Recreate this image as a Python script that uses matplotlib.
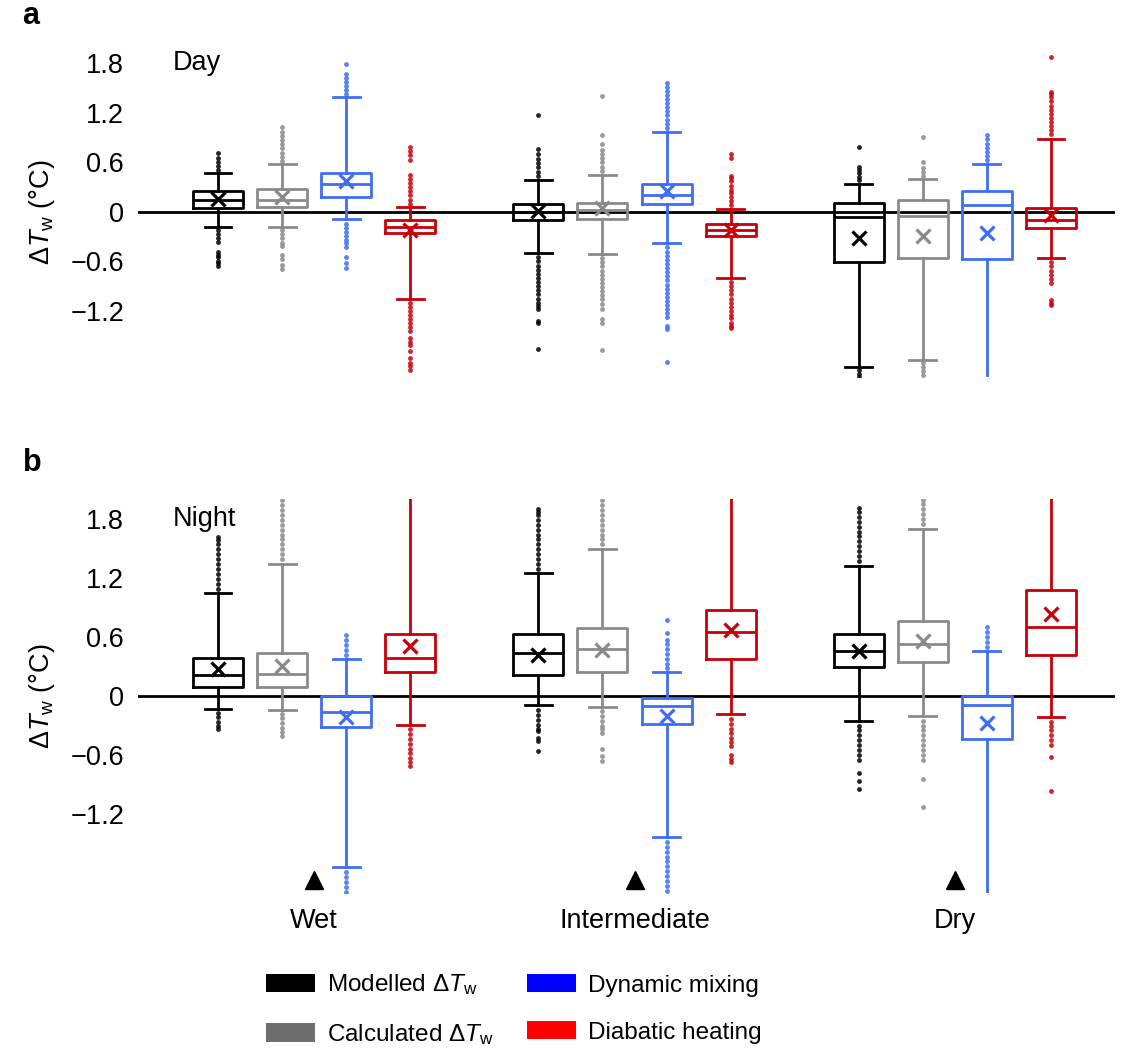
import matplotlib
matplotlib.use('Agg')
import matplotlib.pyplot as plt
from matplotlib.patches import Patch

plt.rcParams['font.family'] = ['Liberation Sans', 'DejaVu Sans']
plt.rcParams['mathtext.fontset'] = 'custom'
plt.rcParams['mathtext.rm'] = 'Liberation Sans'
plt.rcParams['mathtext.it'] = 'Liberation Sans:italic'

groups = ['Wet', 'Intermediate', 'Dry']
box_colors = ['#000000', '#8a8a8a', '#3d6ef5', '#c8000a']
legend_colors = ['#000000', '#6e6e6e', '#0000ff', '#ff0000']
legend_labels = ['Modelled Δ$T_{\\mathrm{w}}$', 'Calculated Δ$T_{\\mathrm{w}}$',
                 'Dynamic mixing', 'Diabatic heating']

# order in every list: Wet (modelled, calculated, mixing, heating), Intermediate (...), Dry (...)
day_q1 = [0.05, 0.06, 0.18, -0.26, -0.10, -0.09, 0.10, -0.29, -0.61, -0.56, -0.57, -0.20]
day_med = [0.15, 0.15, 0.34, -0.18, 0.0, 0.02, 0.21, -0.22, -0.06, -0.05, 0.09, -0.10]
day_q3 = [0.25, 0.28, 0.47, -0.10, 0.10, 0.11, 0.34, -0.15, 0.11, 0.14, 0.26, 0.05]
day_mean = [0.16, 0.18, 0.38, -0.22, 0.01, 0.05, 0.25, -0.22, -0.32, -0.29, -0.26, -0.04]
day_lo = [-0.18, -0.18, -0.09, -1.06, -0.50, -0.51, -0.38, -0.80, -1.88, -1.79, -2.5, -0.56]
day_hi = [0.47, 0.58, 1.39, 0.06, 0.39, 0.45, 0.97, 0.04, 0.34, 0.40, 0.58, 0.89]
day_fliers = [
    [0.51, 0.56, 0.61, 0.66, 0.71, -0.22, -0.27, -0.32, -0.36, -0.49, -0.52, -0.55, -0.59, -0.62, -0.66],
    [0.62, 0.67, 0.72, 0.77, 0.82, 0.87, 0.92, 0.97, 1.03, -0.22, -0.27, -0.32, -0.37, -0.41,
     -0.52, -0.57, -0.64, -0.69],
    [1.43, 1.48, 1.53, 1.58, 1.63, 1.67, 1.79, -0.14, -0.19, -0.24, -0.29, -0.34, -0.38, -0.42,
     -0.54, -0.62, -0.68],
    [0.10, 0.15, 0.20, 0.25, 0.30, 0.35, 0.40, 0.45, 0.63, 0.69, 0.74, 0.79, -1.10, -1.15, -1.20,
     -1.25, -1.30, -1.35, -1.40, -1.44, -1.53, -1.57, -1.61, -1.69, -1.77, -1.83, -1.87, -1.92],
    [0.44, 0.49, 0.54, 0.59, 0.64, 0.70, 0.76, 1.17, -0.55, -0.60, -0.65, -0.70, -0.75, -0.80,
     -0.85, -0.90, -0.95, -1.00, -1.05, -1.10, -1.14, -1.17, -1.32, -1.35, -1.66],
    [0.50, 0.55, 0.60, 0.65, 0.70, 0.75, 0.82, 0.93, 1.40, -0.56, -0.61, -0.66, -0.71, -0.76,
     -0.81, -0.86, -0.91, -0.96, -1.01, -1.06, -1.11, -1.17, -1.30, -1.35, -1.67],
    [1.02, 1.07, 1.12, 1.17, 1.22, 1.27, 1.32, 1.37, 1.42, 1.47, 1.52, 1.56, -0.43, -0.48, -0.53,
     -0.58, -0.63, -0.68, -0.73, -0.78, -0.83, -0.88, -0.93, -0.98, -1.03, -1.08, -1.13, -1.18,
     -1.23, -1.27, -1.38, -1.42, -1.82],
    [0.08, 0.13, 0.18, 0.23, 0.27, 0.31, 0.38, 0.41, 0.44, 0.65, 0.70, -0.85, -0.90, -0.95, -1.00,
     -1.05, -1.10, -1.15, -1.20, -1.25, -1.29, -1.35, -1.38, -1.41],
    [0.39, 0.43, 0.47, 0.51, 0.55, 0.79, -1.92, -1.96, -2.00],
    [0.44, 0.48, 0.53, 0.60, 0.91, -1.83, -1.88, -1.93, -1.98],
    [0.63, 0.68, 0.73, 0.78, 0.83, 0.88, 0.93],
    [0.94, 0.99, 1.04, 1.09, 1.14, 1.19, 1.24, 1.29, 1.34, 1.39, 1.43, 1.46, 1.88, -0.61, -0.66,
     -0.71, -0.76, -0.81, -0.86, -1.07, -1.10, -1.13],
]

night_q1 = [0.09, 0.09, -0.31, 0.24, 0.21, 0.24, -0.28, 0.38, 0.29, 0.35, -0.44, 0.42]
night_med = [0.21, 0.22, -0.16, 0.39, 0.44, 0.48, -0.10, 0.65, 0.46, 0.53, -0.09, 0.70]
night_q3 = [0.39, 0.44, 0.0, 0.63, 0.63, 0.69, -0.02, 0.87, 0.63, 0.76, 0.0, 1.08]
night_mean = [0.27, 0.30, -0.21, 0.51, 0.42, 0.47, -0.20, 0.67, 0.46, 0.56, -0.27, 0.83]
night_lo = [-0.13, -0.14, -1.74, -0.29, -0.09, -0.11, -1.43, -0.18, -0.25, -0.20, -2.5, -0.21]
night_hi = [1.05, 1.34, 0.38, 2.6, 1.25, 1.49, 0.24, 2.8, 1.32, 1.70, 0.46, 3.0]
night_fliers = [
    [1.09, 1.14, 1.19, 1.24, 1.29, 1.34, 1.39, 1.44, 1.49, 1.54, 1.58, 1.61, -0.17, -0.21, -0.26,
     -0.30, -0.34],
    [1.39, 1.44, 1.49, 1.54, 1.59, 1.64, 1.69, 1.74, 1.79, 1.84, 1.89, 1.94, 1.99, -0.18, -0.22,
     -0.27, -0.32, -0.37, -0.41],
    [0.42, 0.47, 0.52, 0.57, 0.62, -1.79, -1.84, -1.89, -1.94, -1.99],
    [-0.34, -0.39, -0.44, -0.49, -0.54, -0.58, -0.63, -0.67, -0.71],
    [1.29, 1.34, 1.39, 1.44, 1.49, 1.54, 1.59, 1.64, 1.69, 1.74, 1.79, 1.84, 1.87, 1.90, -0.14,
     -0.19, -0.24, -0.29, -0.33, -0.36, -0.43, -0.46, -0.56],
    [1.54, 1.59, 1.64, 1.69, 1.74, 1.79, 1.84, 1.89, 1.94, 1.99, -0.15, -0.20, -0.25, -0.30,
     -0.34, -0.38, -0.54, -0.61, -0.66],
    [0.28, 0.33, 0.38, 0.43, 0.48, 0.53, 0.57, 0.64, 0.77, -1.48, -1.53, -1.58, -1.63, -1.68,
     -1.73, -1.78, -1.83, -1.88, -1.93, -1.98],
    [-0.23, -0.28, -0.33, -0.38, -0.43, -0.47, -0.51, -0.60, -0.64, -0.67],
    [1.37, 1.42, 1.47, 1.52, 1.57, 1.62, 1.67, 1.72, 1.77, 1.82, 1.87, 1.91, -0.30, -0.35, -0.40,
     -0.45, -0.50, -0.55, -0.60, -0.65, -0.78, -0.86, -0.94],
    [1.75, 1.80, 1.85, 1.90, 1.95, 1.99, -0.25, -0.30, -0.35, -0.40, -0.45, -0.50, -0.55, -0.60,
     -0.65, -0.84, -1.13],
    [0.50, 0.55, 0.60, 0.65, 0.70],
    [-0.26, -0.30, -0.35, -0.40, -0.45, -0.50, -0.62, -0.96],
]

yticks = [-1.2, -0.6, 0, 0.6, 1.2, 1.8]
ytick_labels = ['\u22121.2', '\u22120.6', '0', '0.6', '1.2', '1.8']
marker_level = -1.87  # black triangles under each climate group
fs = 19.5


def make_stats(q1, med, q3, mean, lo, hi, fliers):
    return [dict(q1=q1[i], med=med[i], q3=q3[i], mean=mean[i], whislo=lo[i], whishi=hi[i],
                 fliers=fliers[i]) for i in range(len(q1))]


def draw_panel(ax, stats, title):
    ax.axhline(0, color='k', lw=2, zorder=1)
    for s, col in enumerate(box_colors):
        idx = [g * 4 + s for g in range(3)]
        pos = [g * 5 + s + 1 for g in range(3)]
        ax.bxp([stats[i] for i in idx], positions=pos, widths=0.78, capwidths=0.42,
               showmeans=True, manage_ticks=False,
               boxprops=dict(color=col, lw=2),
               whiskerprops=dict(color=col, lw=2),
               capprops=dict(color=col, lw=2),
               medianprops=dict(color=col, lw=2),
               meanprops=dict(marker='x', markersize=9.5, markeredgewidth=2.3,
                              markeredgecolor=col),
               flierprops=dict(marker='o', markersize=3.5, markeredgewidth=0,
                               markerfacecolor=col, alpha=0.85))
    ax.set_xlim(-0.25, 15)
    ax.set_ylim(-2, 2)
    ax.set_yticks(yticks, ytick_labels, fontsize=fs)
    ax.tick_params(axis='y', length=0, pad=10)
    for sp in ax.spines.values():
        sp.set_visible(False)
    ax.text(0.3, 1.8, title, fontsize=fs, va='center', ha='left')
    ax.text(-0.098, 0.5, 'Δ$T_{\\mathrm{w}}$ (°C)', transform=ax.transAxes, rotation=90,
            fontsize=fs, ha='center', va='center')


fig = plt.figure(figsize=(11.27, 10.56), dpi=100)
ax_a = fig.add_axes([0.1224, 0.643, 0.867, 0.3125])
ax_b = fig.add_axes([0.1224, 0.1544, 0.867, 0.373])

draw_panel(ax_a, make_stats(day_q1, day_med, day_q3, day_mean, day_lo, day_hi, day_fliers), 'Day')
draw_panel(ax_b, make_stats(night_q1, night_med, night_q3, night_mean, night_lo, night_hi,
                            night_fliers), 'Night')

ax_a.set_xticks([])
centers = [g * 5 + 2.5 for g in range(3)]
ax_b.set_xticks(centers, groups, fontsize=fs)
ax_b.tick_params(axis='x', length=0, pad=11)
ax_b.plot(centers, [marker_level] * 3, '^', color='k', markersize=13, clip_on=False)

fig.text(0.02, 0.985, 'a', fontsize=22, fontweight='bold', va='center')
fig.text(0.02, 0.562, 'b', fontsize=22, fontweight='bold', va='center')

handles = [Patch(facecolor=c, edgecolor='none') for c in legend_colors]
fig.legend(handles, legend_labels, loc='upper left', bbox_to_anchor=(0.236, 0.079), ncol=2,
           frameon=False, fontsize=17.5, handlelength=2.0, handleheight=0.8, handletextpad=0.5,
           columnspacing=1.4, labelspacing=1.0, borderpad=0, borderaxespad=0)

fig.savefig('out.png', dpi=100)
